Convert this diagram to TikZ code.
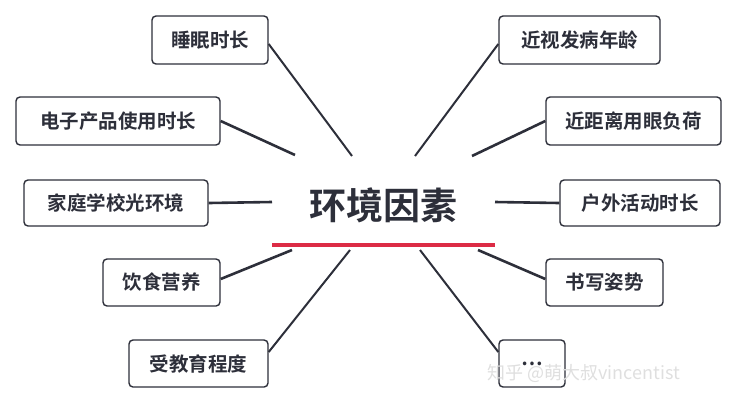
\documentclass[tikz,border=0pt]{standalone}
\usepackage{fontspec}
\newfontfamily\cjk{Noto Sans CJK SC}[BoldFont={Noto Sans CJK SC Bold}]
\definecolor{ink}{HTML}{2D2F3A}
\definecolor{redl}{HTML}{DC2B45}
\begin{document}
\begin{tikzpicture}[x=1pt,y=-1pt,
  box/.style={draw=ink,line width=1.4pt,rounded corners=4pt,fill=white,text=ink,font=\cjk\bfseries\fontsize{19.5}{22}\selectfont,inner sep=0pt,anchor=center},
  conn/.style={draw=ink,line width=2.6pt}]
\useasboundingbox (0,0) rectangle (746,405);
\node[box,minimum width=116pt,minimum height=48pt] (a) at (210,40) {睡眠时长};
\node[box,minimum width=204pt,minimum height=48pt] (b) at (118,121) {电子产品使用时长};
\node[box,minimum width=184pt,minimum height=46pt] (c) at (116,203) {家庭学校光环境};
\node[box,minimum width=117pt,minimum height=47pt] (d) at (161.5,282.5) {饮食营养};
\node[box,minimum width=139pt,minimum height=47pt] (e) at (198.5,363.5) {受教育程度};
\node[box,minimum width=161pt,minimum height=48pt] (f) at (579.5,40) {近视发病年龄};
\node[box,minimum width=175pt,minimum height=48pt] (g) at (633.5,121) {近距离用眼负荷};
\node[box,minimum width=160pt,minimum height=46pt] (h) at (640,203) {户外活动时长};
\node[box,minimum width=117pt,minimum height=47pt] (i) at (604.5,282.5) {书写姿势};
\node[box,minimum width=66pt,minimum height=47pt] (j) at (532,363.5) {…};
\node[text=ink,font=\cjk\bfseries\fontsize{37}{42}\selectfont] (m) at (383,205) {环境因素};
\draw[redl,line width=4.5pt] (272,245) -- (495,245);
\coordinate (pa) at (352,156); \coordinate (pb) at (295,155);
\coordinate (pc) at (272,202); \coordinate (pd) at (292,250);
\coordinate (pe) at (350,250); \coordinate (pf) at (415,156);
\coordinate (pg) at (472,156); \coordinate (ph) at (495,202);
\coordinate (pi) at (478,250); \coordinate (pj) at (420,250);
\draw[conn,line width=2pt] (a.east|-0,44) -- (pa);
\draw[conn] (b.east) -- (pb);
\draw[conn] (c.east) -- (pc);
\draw[conn] (d.east|-0,279) -- (pd);
\draw[conn,line width=2pt] (e.east|-0,352) -- (pe);
\draw[conn,line width=2pt] (f.west|-0,44) -- (pf);
\draw[conn] (g.west) -- (pg);
\draw[conn] (h.west) -- (ph);
\draw[conn] (i.west|-0,279) -- (pi);
\draw[conn,line width=2pt] (j.west|-0,352) -- (pj);
\node[text=white!75!gray,font=\cjk\fontsize{18}{20}\selectfont,anchor=west] (w) at (484,373) {知乎 @萌大叔vincentist};
\end{tikzpicture}
\end{document}
